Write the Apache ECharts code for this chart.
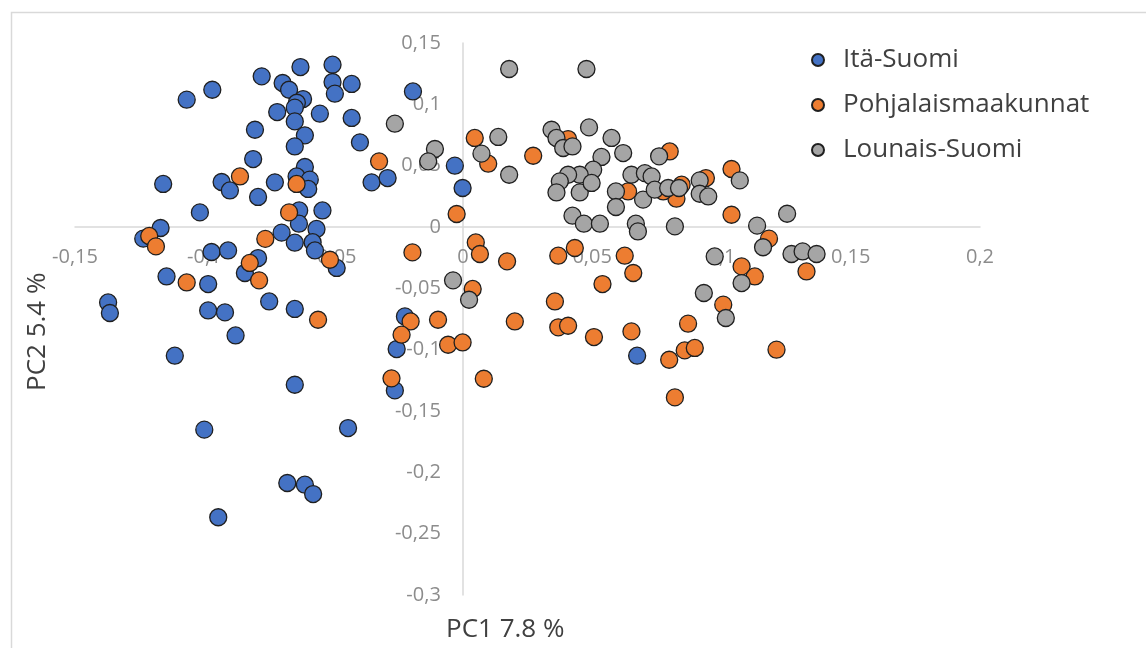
<!DOCTYPE html>
<html>
<head>
<meta charset="utf-8">
<script src="https://cdn.jsdelivr.net/npm/echarts@6/dist/echarts.min.js"></script>
<style>
html,body{margin:0;padding:0;background:#fff;}
#chart{width:1146px;height:648px;}
</style>
</head>
<body>
<div id="chart"></div>
<script>
var seriesNames = ['Itä-Suomi', 'Pohjalaismaakunnat', 'Lounais-Suomi'];
var xTicks = [-0.15, -0.1, -0.05, 0, 0.05, 0.1, 0.15, 0.2];
var yTicks = [-0.3, -0.25, -0.2, -0.15, -0.1, -0.05, 0, 0.05, 0.1, 0.15];
var xTitle = 'PC1 7.8 %';
var yTitle = 'PC2 5.4 %';

var itaSuomi = [
  [-0.1068,0.1038],[-0.0969,0.1119],[-0.0778,0.1228],[-0.0628,0.1304],[-0.0504,0.1323],
  [-0.0697,0.1174],[-0.0672,0.1119],[-0.0504,0.1182],[-0.0430,0.1166],[-0.0495,0.1087],
  [-0.0618,0.1043],[-0.0642,0.1013],[-0.0650,0.0973],[-0.0718,0.0937],[-0.0553,0.0924],
  [-0.0430,0.0889],[-0.0650,0.0861],[-0.0804,0.0793],[-0.0611,0.0747],[-0.0398,0.0690],
  [-0.0650,0.0657],[-0.0811,0.0554],[-0.0611,0.0489],[-0.1159,0.0351],[-0.0933,0.0367],
  [-0.0901,0.0298],[-0.0792,0.0245],[-0.0727,0.0364],[-0.0643,0.0412],[-0.0592,0.0386],
  [-0.0598,0.0310],[-0.0353,0.0364],[-0.0291,0.0399],[-0.0193,0.1105],[-0.1017,0.0119],
  [-0.0633,0.0135],[-0.0543,0.0135],[-0.1169,-0.0008],[-0.1236,-0.0095],[-0.0634,0.0027],
  [-0.0701,-0.0046],[-0.0566,-0.0016],[-0.0650,-0.0128],[-0.0581,-0.0124],[-0.0572,-0.0191],
  [-0.0972,-0.0204],[-0.0908,-0.0191],[-0.0792,-0.0253],[-0.0843,-0.0375],[-0.0488,-0.0334],
  [-0.1146,-0.0403],[-0.0985,-0.0465],[-0.1372,-0.0615],[-0.1365,-0.0701],[-0.0985,-0.0680],
  [-0.0920,-0.0696],[-0.0749,-0.0607],[-0.0650,-0.0668],[-0.0879,-0.0884],[-0.1114,-0.1049],
  [-0.0650,-0.1286],[-0.1000,-0.1652],[-0.0444,-0.1639],[-0.0679,-0.2087],[-0.0611,-0.2101],
  [-0.0579,-0.2177],[-0.0946,-0.2366],[-0.0224,-0.0729],[-0.0256,-0.0995],[-0.0263,-0.1332],
  [-0.0031,0.0500],[-0.0001,0.0318],[0.0674,-0.1049]
];

var pohjalais = [
  [-0.0862,0.0412],[-0.0643,0.0351],[-0.0672,0.0119],[-0.0324,0.0535],[-0.1213,-0.0073],
  [-0.1187,-0.0158],[-0.0764,-0.0097],[-0.0824,-0.0293],[-0.0788,-0.0435],[-0.1068,-0.0452],
  [-0.0514,-0.0267],[-0.0560,-0.0756],[-0.0195,-0.0207],[-0.0202,-0.0770],[-0.0096,-0.0756],
  [-0.0237,-0.0878],[-0.0057,-0.0960],[-0.0276,-0.1234],[0.0050,-0.0126],[0.0066,-0.0220],
  [0.0171,-0.0280],[0.0369,-0.0234],[0.0433,-0.0171],[0.0626,-0.0234],[0.0659,-0.0375],
  [0.0540,-0.0465],[0.0356,-0.0607],[0.0038,-0.0505],[-0.0001,-0.0941],[0.0081,-0.1237],
  [0.0201,-0.0770],[0.0369,-0.0818],[0.0407,-0.0805],[0.0507,-0.0897],[0.0652,-0.0851],
  [0.0871,-0.0788],[0.0858,-0.1006],[0.0897,-0.0986],[0.0798,-0.1082],[0.0820,-0.1389],
  [0.1213,-0.1000],[0.1007,-0.0633],[0.1078,-0.0321],[0.1129,-0.0403],[0.1184,-0.0095],
  [0.1329,-0.0362],[0.0046,0.0726],[0.0098,0.0516],[0.0272,0.0581],[-0.0024,0.0106],
  [0.0800,0.0616],[0.0639,0.0290],[0.0826,0.0231],[0.0775,0.0290],[0.0940,0.0399],
  [0.0846,0.0345],[0.1039,0.0473],[0.1039,0.0100],[0.0407,0.0717]
];

var lounais = [
  [-0.0263,0.0842],[0.0179,0.1288],[0.0478,0.1288],[-0.0108,0.0636],[-0.0134,0.0535],
  [0.0072,0.0598],[0.0137,0.0734],[0.0179,0.0426],[0.0343,0.0793],[0.0362,0.0726],
  [0.0388,0.0644],[0.0424,0.0657],[0.0488,0.0812],[0.0575,0.0726],[0.0620,0.0603],
  [0.0536,0.0571],[0.0759,0.0576],[0.0504,0.0467],[0.0452,0.0426],[0.0407,0.0426],
  [0.0375,0.0372],[0.0362,0.0282],[0.0452,0.0282],[0.0498,0.0359],[0.0652,0.0426],
  [0.0704,0.0439],[0.0730,0.0412],[0.0592,0.0290],[0.0697,0.0223],[0.0742,0.0304],
  [0.0592,0.0163],[0.0424,0.0092],[0.0468,0.0027],[0.0530,0.0027],[0.0669,0.0027],
  [0.0677,-0.0036],[0.0820,0.0005],[0.0794,0.0318],[0.0836,0.0318],[0.0916,0.0380],
  [0.0916,0.0271],[0.0949,0.0249],[0.1071,0.0380],[0.1254,0.0108],[0.1138,0.0011],
  [0.1161,-0.0165],[0.1271,-0.0220],[0.1314,-0.0199],[0.1368,-0.0220],[0.0974,-0.0240],
  [0.1078,-0.0457],[0.0932,-0.0538],[0.1017,-0.0742],[-0.0038,-0.0435],[0.0024,-0.0593]
];

var colors = ['#4472C4', '#ED7D31', '#A5A5A5'];
var FONT = 'Open Sans';

function fmt(v) {
  var r = Math.round(v * 100) / 100;
  return String(r).replace('.', ',');
}

var GRID = {left: 75, right: 166, top: 43, bottom: 53};
var W = 1146, H = 648;
var gw = W - GRID.left - GRID.right, gh = H - GRID.top - GRID.bottom;
var xMin = xTicks[0], xMax = xTicks[xTicks.length - 1];
var yMin = yTicks[0], yMax = yTicks[yTicks.length - 1];
// shift axes so that they cross at zero (labels follow the axis lines)
var xAxisOffset = -gh * (0 - yMin) / (yMax - yMin);
var yAxisOffset = -gw * (0 - xMin) / (xMax - xMin);

var chart = echarts.init(document.getElementById('chart'), null, {renderer: 'canvas'});

function mkSeries(name, data, color) {
  return {
    name: name,
    type: 'scatter',
    data: data,
    symbol: 'circle',
    symbolSize: 17,
    itemStyle: {color: color, borderColor: '#1f1f1f', borderWidth: 1.3, opacity: 1},
    emphasis: {disabled: true}
  };
}

chart.setOption({
  animation: false,
  backgroundColor: '#ffffff',
  color: colors,
  grid: {left: GRID.left, right: GRID.right, top: GRID.top, bottom: GRID.bottom, containLabel: false},
  xAxis: {
    type: 'value', position: 'bottom', offset: xAxisOffset,
    min: xMin, max: xMax, interval: 0.05,
    axisLine: {show: true, onZero: false, lineStyle: {color: '#d9d9d9', width: 1.5}},
    axisTick: {show: false},
    splitLine: {show: false},
    axisLabel: {
      show: true, margin: 20, fontFamily: FONT, fontSize: 20, lineHeight: 20, color: '#8c8c8c',
      showMinLabel: true, showMaxLabel: true,
      formatter: function (v) { return fmt(v); }
    }
  },
  yAxis: {
    type: 'value', position: 'left', offset: yAxisOffset,
    min: yMin, max: yMax, interval: 0.05,
    axisLine: {show: true, onZero: false, lineStyle: {color: '#d9d9d9', width: 1.5}},
    axisTick: {show: false},
    splitLine: {show: false},
    axisLabel: {
      show: true, margin: 22, fontFamily: FONT, fontSize: 20, color: '#8c8c8c',
      showMinLabel: true, showMaxLabel: true,
      formatter: function (v) { return fmt(v); }
    }
  },
  legend: {
    orient: 'vertical',
    left: 806, top: 42,
    itemWidth: 12, itemHeight: 12, itemGap: 19,
    icon: 'circle',
    data: seriesNames,
    textStyle: {fontFamily: FONT, fontSize: 26, lineHeight: 26, color: '#404040', padding: [0, 0, 0, 14]}
  },
  graphic: [
    {type: 'rect', left: 9, top: 10, silent: true, z: -10,
     shape: {x: 0, y: 0, width: 1200, height: 700},
     style: {fill: 'none', stroke: '#d9d9d9', lineWidth: 1.5}},
    {type: 'text', left: 446, top: 617, silent: true,
     style: {text: xTitle, font: '26px "Open Sans"', fill: '#404040'}},
    {type: 'text', x: 25, y: 391, rotation: Math.PI / 2, silent: true,
     style: {text: yTitle, font: '26px "Open Sans"', fill: '#404040'}}
  ],
  series: [
    mkSeries(seriesNames[0], itaSuomi, colors[0]),
    mkSeries(seriesNames[1], pohjalais, colors[1]),
    mkSeries(seriesNames[2], lounais, colors[2])
  ]
});
</script>
</body>
</html>
